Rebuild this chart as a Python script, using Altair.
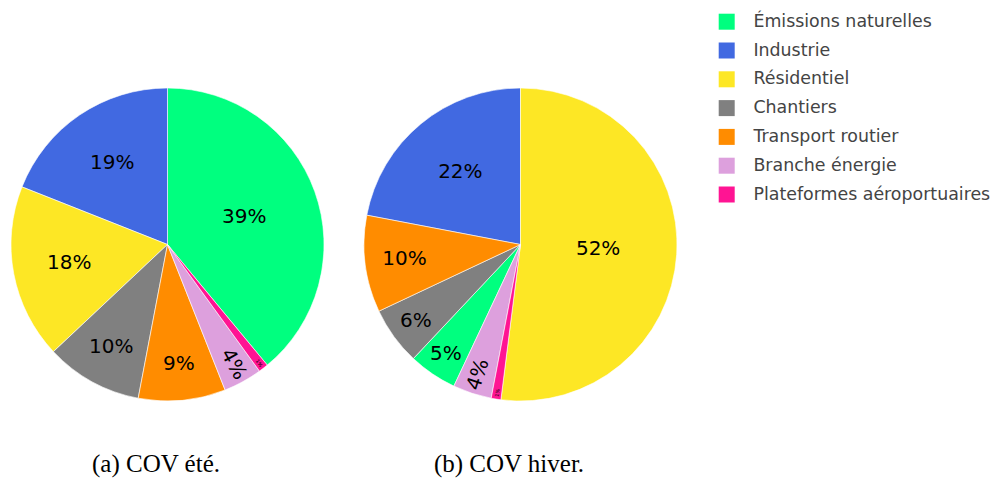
import altair as alt
import pandas as pd

categories = ["Émissions naturelles", "Industrie", "Résidentiel", "Chantiers",
              "Transport routier", "Branche énergie", "Plateformes aéroportuaires"]
colors = ["#00FF7F", "#4169E1", "#FDE725", "#808080", "#FF8C00", "#DDA0DD", "#FF1493"]
values_ete = [39, 19, 18, 10, 9, 4, 1]
values_hiver = [5, 22, 52, 6, 10, 4, 1]
# clockwise slot of each category, starting at 12 o'clock
slot_ete = [0, 6, 5, 4, 3, 2, 1]
slot_hiver = [3, 6, 0, 4, 5, 2, 1]
captions = ["(a) COV été.", "(b) COV hiver."]

rows = []
for pie, vals, slots in (("a", values_ete, slot_ete), ("b", values_hiver, slot_hiver)):
    for c, v, s in zip(categories, vals, slots):
        rows.append({"pie": pie, "cat": c, "value": v, "slot": s})
df = pd.DataFrame(rows)

R = 156.5
centers = {"a": (159.5, 236.5), "b": (512.5, 236.5)}

color = alt.Color(
    "cat:N",
    scale=alt.Scale(domain=categories, range=colors),
    legend=alt.Legend(
        orient="none", legendX=710, legendY=5, title=None,
        symbolType="square", symbolSize=256, symbolStrokeWidth=0, symbolOpacity=1,
        labelFont="DejaVu Sans", labelFontSize=17.4, labelColor="#444",
        labelOffset=18, rowPadding=9.8, padding=0, labelLimit=400,
    ),
)


def pie_layers(pie):
    cx, cy = centers[pie]
    base = (
        alt.Chart(df)
        .transform_filter(alt.datum.pie == pie)
        .transform_joinaggregate(total="sum(value)")
        .transform_window(cum="sum(value)", sort=[alt.SortField("slot")], frame=[None, 0])
        .transform_calculate(
            t1="datum.cum / datum.total * 2 * PI",
            t0="(datum.cum - datum.value) / datum.total * 2 * PI",
        )
        .transform_calculate(
            tm="(datum.t0 + datum.t1) / 2",
            lr="75 + 80 * exp(-datum.value / 15.5)",
            lbl="datum.value + '%'",
            fs="datum.value < 2 ? 5 : 20",
        )
        .transform_calculate(deg="datum.tm * 180 / PI")
        .transform_calculate(
            ang="datum.value <= 4 ? ((datum.deg - 90 > 90) ? (datum.deg - 270 + 360) % 360 : (datum.deg - 90 + 360) % 360) : 0"
        )
    )
    arcs = base.mark_arc(outerRadius=R, stroke="white", strokeWidth=0.6).encode(
        theta=alt.Theta("t0:Q", scale=None),
        theta2="t1:Q",
        color=color,
        x=alt.value(cx),
        y=alt.value(cy),
    )
    labels = base.mark_text(font="DejaVu Sans", align="center", baseline="middle", color="black").encode(
        theta=alt.Theta("tm:Q", scale=None),
        radius=alt.Radius("lr:Q", scale=None),
        text="lbl:N",
        angle=alt.Angle("ang:Q", scale=None),
        size=alt.Size("fs:Q", scale=None),
        x=alt.value(cx),
        y=alt.value(cy),
    )
    return [arcs, labels]


cap_a = alt.Chart(pd.DataFrame({"c": [captions[0]]})).mark_text(
    font="Liberation Serif", fontSize=25, align="center", baseline="alphabetic", color="black"
).encode(text="c:N", x=alt.value(148), y=alt.value(464))
cap_b = alt.Chart(pd.DataFrame({"c": [captions[1]]})).mark_text(
    font="Liberation Serif", fontSize=25, align="center", baseline="alphabetic", color="black"
).encode(text="c:N", x=alt.value(501), y=alt.value(464))

chart = (
    alt.layer(*pie_layers("a"), *pie_layers("b"), cap_a, cap_b)
    .properties(width=985, height=471, padding=0, autosize="none")
    .configure_view(stroke=None)
)

chart.save("out.html", embed_options={"renderer": "svg", "actions": False})
